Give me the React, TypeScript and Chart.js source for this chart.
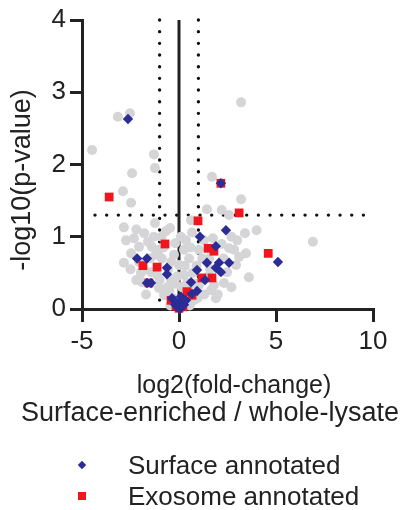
import React, { useEffect, useRef } from "react";
import { Chart, registerables } from "chart.js";

Chart.register(...registerables);

const FONT = "Arial, 'Liberation Sans', Helvetica, sans-serif";
const TEXT = "#222222";

// Axis configuration values
const xRange = [-5, 10];
const yRange = [0, 4];
const xStep = 5;
const yStep = 1;
const foldCut = [-1, 1];
const pCut = 1.3;

const yTitle = "-log10(p-value)";
const xTitle = ["log2(fold-change)", "Surface-enriched / whole-lysate"];
const legendLabels = ["Surface annotated", "Exosome annotated"];

// All detected proteins (grey)
const grayX = [
  -4.48, -3.15, -2.53, -1.29, 3.2, -1.24, -2.42, -2.89, -2.47, 1.7, 3.2, 1.44, 2.2, 2.58,
  0.62, -1.24, -2.84, -0.67, -0.46, -1.8, 0.67, 3.4, 4.0, 1.75, -2.73, -2.32, -1.6, 6.9,
  -2.06, -1.4, -2.47, 2.58, 3.45, 3.1, -2.84, 2.94, -1.96, -1.44, 3.6, 2.32, 1.65, -1.9,
  -1.03, -0.26, 0.26, 0.52, 1.03, 1.55, 0.0, -0.41, 0.26, -1.03, -0.77, 0.77, 1.03, 1.8,
  2.47, 2.84, 1.29, 0.36, -0.2, 0.1, -0.88, -1.13, -0.5, 0.41, 2.3, -2.06, -0.55, 0.7,
  -0.3, 0.4, -1.5, -0.9, 0.9, 2.0, -1.8, -1.2, -0.8, -0.4, 0.3, 0.6, 1.2, 1.6, 2.2, 2.7,
  -2.2, -1.0, -0.6, 0.5, 1.3, 1.5, 0.85, -0.2, 0.15, -0.45, 0.55, -2.5, -2.2, 2.7, 3.0,
  -1.3, -0.1, 1.9, -1.7, 0.95,
];
const grayY = [
  2.2, 2.66, 2.71, 2.14, 2.86, 1.95, 1.88, 1.63, 1.47, 1.83, 1.52, 1.38, 1.37, 1.3,
  1.23, 1.19, 1.13, 1.08, 1.12, 1.05, 1.06, 1.05, 1.09, 0.98, 0.95, 0.98, 0.93, 0.93,
  0.86, 0.86, 0.77, 0.84, 0.77, 0.72, 0.64, 0.61, 0.5, 0.51, 0.44, 0.36, 0.26, 0.37,
  0.82, 0.75, 0.82, 0.7, 0.82, 0.7, 0.61, 0.4, 0.47, 0.29, 0.19, 0.12, 0.33, 0.33,
  0.51, 0.82, 0.95, 0.95, 0.91, 1.0, 0.7, 0.47, 0.26, 0.36, 0.7, 0.65, 0.55, 0.5,
  0.15, 0.1, 0.7, 1.0, 0.6, 0.2, 0.55, 0.75, 0.85, 0.65, 0.6, 0.85, 0.7, 0.55, 0.9, 1.0,
  1.1, 0.4, 0.3, 0.25, 0.2, 0.45, 0.35, 0.35, 0.3, 0.05, 0.05, 0.55, 0.4, 0.3, 0.95,
  1.0, 0.45, 0.15, 0.2, 0.15,
];

// Surface annotated (blue diamonds)
const surfaceX = [
  -2.63, 2.16, 2.42, 1.08, 1.9, 5.1, 1.44, 2.06, 2.58, 2.16, 1.9, 0.93, 1.34, 0.62, 0.93,
  0.67, -2.16, -1.65, -0.62, -0.62, -1.65, -1.44, -0.36, -0.2, 0.0, 0.15, -0.1, 0.26, 0.05,
  0.1, -0.26, 0.36,
];
const surfaceY = [
  2.63, 1.74, 1.09, 1.0, 0.87, 0.65, 0.64, 0.64, 0.64, 0.51, 0.57, 0.54, 0.4, 0.37, 0.25,
  0.21, 0.7, 0.7, 0.57, 0.48, 0.36, 0.36, 0.15, 0.06, 0.08, 0.12, 0.03, 0.06, 0.0,
  0.17, 0.12, 0.12,
];

// Exosome annotated (red squares)
const exosomeX = [
  2.16, -3.6, 3.1, 0.98, -0.72, 1.5, 1.8, 4.6, -1.86, -1.13, 1.18, 1.7, -1.55, 0.41, 0.67,
  -0.41, 0.0, -0.15, 0.2,
];
const exosomeY = [
  1.74, 1.55, 1.33, 1.22, 0.9, 0.84, 0.8, 0.77, 0.6, 0.58, 0.43, 0.43, 0.36, 0.24, 0.19,
  0.12, 0.01, 0.04, 0.03,
];

const GRAY = "#d5d5d7";
const BLUE = "#2c2c96";
const RED = "#f0161e";

const toPoints = (xs: number[], ys: number[]) => xs.map((x, i) => ({ x, y: ys[i] }));

const textPlugin = {
  id: "customText",
  afterDraw(chart: any) {
    const ctx = chart.ctx as CanvasRenderingContext2D;
    ctx.save();
    ctx.fillStyle = TEXT;
    ctx.textBaseline = "middle";

    // y title
    ctx.font = `27px ${FONT}`;
    ctx.save();
    ctx.translate(23, 180);
    ctx.rotate(-Math.PI / 2);
    ctx.textAlign = "center";
    ctx.fillText(yTitle, 0, 0);
    ctx.restore();

    // x title
    ctx.textAlign = "center";
    ctx.font = `25px ${FONT}`;
    ctx.fillText(xTitle[0], 234, 386);
    ctx.font = `27px ${FONT}`;
    ctx.fillText(xTitle[1], 210, 414);

    // legend
    ctx.font = `26px ${FONT}`;
    ctx.textAlign = "left";
    ctx.fillText(legendLabels[0], 128, 467);
    ctx.fillText(legendLabels[1], 128, 498);

    ctx.fillStyle = BLUE;
    ctx.beginPath();
    const dx = 82, dy = 465, r = 4.2;
    ctx.moveTo(dx - r, dy);
    ctx.lineTo(dx, dy - r);
    ctx.lineTo(dx + r, dy);
    ctx.lineTo(dx, dy + r);
    ctx.closePath();
    ctx.fill();

    ctx.fillStyle = RED;
    ctx.fillRect(78, 492, 8, 8);
    ctx.restore();
  },
};

export default function App() {
  const ref = useRef<HTMLCanvasElement>(null);

  useEffect(() => {
    if (!ref.current) return;
    const dotted = {
      type: "line" as const,
      showLine: true,
      pointRadius: 0,
      borderColor: "#111",
      borderWidth: 3.4,
      borderDash: [0, 11.67],
      borderCapStyle: "round" as const,
      fill: false,
      order: 10,
      clip: false as any,
    };
    const chart = new Chart(ref.current, {
      type: "scatter",
      data: {
        datasets: [
          {
            label: legendLabels[0],
            data: toPoints(surfaceX, surfaceY),
            pointStyle: "rectRot",
            pointRadius: 5.2,
            backgroundColor: BLUE,
            borderColor: BLUE,
            borderWidth: 0,
            order: 1,
            clip: false as any,
          },
          {
            label: legendLabels[1],
            data: toPoints(exosomeX, exosomeY),
            pointStyle: "rect",
            pointRadius: 6.2,
            backgroundColor: RED,
            borderColor: RED,
            borderWidth: 0,
            order: 2,
            clip: false as any,
          },
          {
            label: "All",
            data: toPoints(grayX, grayY),
            pointStyle: "circle",
            pointRadius: 5,
            backgroundColor: GRAY,
            borderColor: GRAY,
            borderWidth: 0,
            order: 3,
            clip: false as any,
          },
          {
            ...dotted,
            label: "cutL",
            data: [
              { x: foldCut[0], y: yRange[1] },
              { x: foldCut[0], y: yRange[0] },
            ],
          },
          {
            ...dotted,
            label: "cutR",
            data: [
              { x: foldCut[1], y: yRange[1] },
              { x: foldCut[1], y: yRange[0] },
            ],
          },
          {
            ...dotted,
            label: "cutP",
            data: [
              { x: -4.33, y: pCut },
              { x: xRange[1], y: pCut },
            ],
          },
          {
            type: "line" as const,
            label: "zero",
            showLine: true,
            pointRadius: 0,
            borderColor: "#222",
            borderWidth: 3,
            fill: false,
            order: 9,
            data: [
              { x: 0, y: yRange[1] },
              { x: 0, y: yRange[0] },
            ],
          },
        ] as any,
      },
      options: {
        animation: false,
        responsive: false,
        events: [],
        layout: { padding: { left: 0, top: 20, right: 38, bottom: 0 } },
        plugins: {
          legend: { display: false },
          tooltip: { enabled: false },
          title: { display: false },
        },
        scales: {
          x: {
            type: "linear",
            min: xRange[0],
            max: xRange[1],
            afterFit: (s: any) => {
              s.height = 201;
            },
            ticks: {
              stepSize: xStep,
              color: TEXT,
              font: { family: FONT, size: 26 },
              padding: 4,
              maxRotation: 0,
            },
            grid: {
              drawOnChartArea: false,
              drawTicks: true,
              tickLength: 13,
              color: TEXT,
              lineWidth: 3,
            },
            border: { display: true, color: TEXT, width: 3 },
          },
          y: {
            type: "linear",
            min: yRange[0],
            max: yRange[1],
            afterFit: (s: any) => {
              s.width = 82;
            },
            ticks: {
              stepSize: yStep,
              color: TEXT,
              font: { family: FONT, size: 26 },
              padding: 4,
            },
            grid: {
              drawOnChartArea: false,
              drawTicks: true,
              tickLength: 12,
              color: TEXT,
              lineWidth: 3,
            },
            border: { display: true, color: TEXT, width: 3 },
          },
        },
      },
      plugins: [textPlugin],
    });
    return () => chart.destroy();
  }, []);

  return (
    <div style={{ position: "absolute", left: 0, top: 0, width: 411, height: 510, background: "#fff" }}>
      <canvas ref={ref} width={411} height={510} style={{ width: 411, height: 510, display: "block" }} />
    </div>
  );
}
